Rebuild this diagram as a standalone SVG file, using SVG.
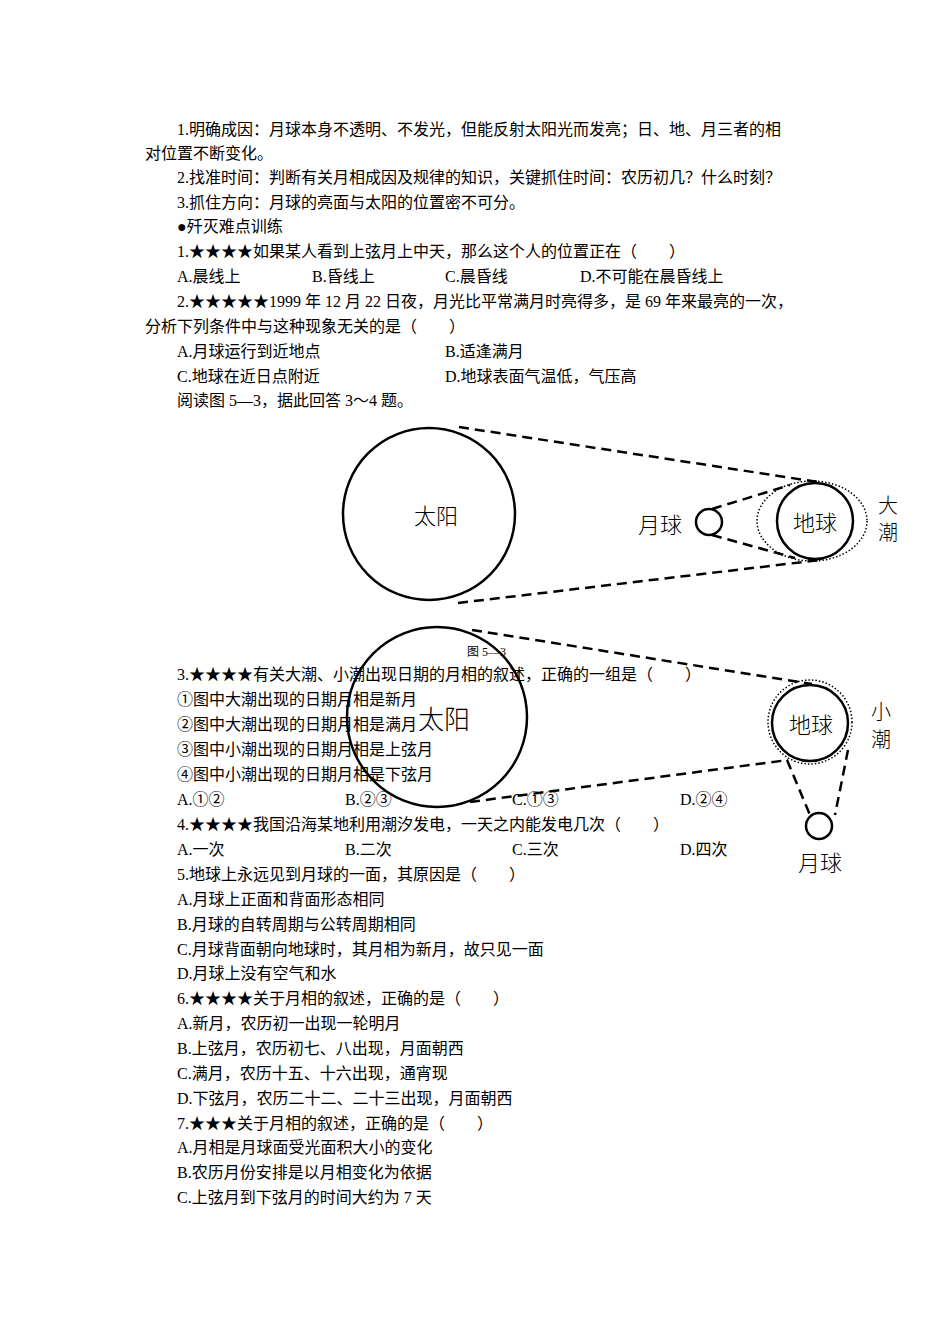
<svg xmlns="http://www.w3.org/2000/svg" width="950" height="1344" viewBox="0 0 950 1344">
<style>
text{font-family:"Liberation Serif","Noto Sans CJK SC",serif;font-size:16px;fill:#000}
.lb{font-family:"Noto Sans CJK SC",sans-serif;font-size:22px;font-weight:300;text-anchor:middle;dominant-baseline:central}
.sm{font-size:20px}
.c{fill:none;stroke:#000;stroke-width:2.5}
.d{fill:none;stroke:#000;stroke-width:2.5;stroke-dasharray:10 6}
.dot{fill:none;stroke:#000;stroke-width:1.5;stroke-dasharray:1.5 2}
</style>
<rect width="950" height="1344" fill="#fff"/>
<g id="text">
<text x="177" y="135">1.明确成因：月球本身不透明、不发光，但能反射太阳光而发亮；日、地、月三者的相</text>
<text x="145" y="159">对位置不断变化。</text>
<text x="177" y="183">2.找准时间：判断有关月相成因及规律的知识，关键抓住时间：农历初几？什么时刻？</text>
<text x="177" y="208">3.抓住方向：月球的亮面与太阳的位置密不可分。</text>
<text x="177" y="232">●歼灭难点训练</text>
<text x="177" y="257">1.★★★★如果某人看到上弦月上中天，那么这个人的位置正在（　　）</text>
<text x="177" y="282">A.晨线上</text><text x="312" y="282">B.昏线上</text><text x="445" y="282">C.晨昏线</text><text x="580" y="282">D.不可能在晨昏线上</text>
<text x="177" y="307">2.★★★★★1999 年 12 月 22 日夜，月光比平常满月时亮得多，是 69 年来最亮的一次，</text>
<text x="145" y="332">分析下列条件中与这种现象无关的是（　　）</text>
<text x="177" y="357">A.月球运行到近地点</text><text x="445" y="357">B.适逢满月</text>
<text x="177" y="382">C.地球在近日点附近</text><text x="445" y="382">D.地球表面气温低，气压高</text>
<text x="177" y="406">阅读图 5—3，据此回答 3～4 题。</text>
<text x="467" y="656" style="font-size:12px">图 5—3</text>
<text x="177" y="680">3.★★★★有关大潮、小潮出现日期的月相的叙述，正确的一组是（　　）</text>
<text x="177" y="705">①图中大潮出现的日期月相是新月</text>
<text x="177" y="730">②图中大潮出现的日期月相是满月</text>
<text x="177" y="755">③图中小潮出现的日期月相是上弦月</text>
<text x="177" y="780">④图中小潮出现的日期月相是下弦月</text>
<text x="177" y="805">A.①②</text><text x="345" y="805">B.②③</text><text x="512" y="805">C.①③</text><text x="680" y="805">D.②④</text>
<text x="177" y="830">4.★★★★我国沿海某地利用潮汐发电，一天之内能发电几次（　　）</text>
<text x="177" y="855">A.一次</text><text x="345" y="855">B.二次</text><text x="512" y="855">C.三次</text><text x="680" y="855">D.四次</text>
<text x="177" y="880">5.地球上永远见到月球的一面，其原因是（　　）</text>
<text x="177" y="905">A.月球上正面和背面形态相同</text>
<text x="177" y="930">B.月球的自转周期与公转周期相同</text>
<text x="177" y="955">C.月球背面朝向地球时，其月相为新月，故只见一面</text>
<text x="177" y="979">D.月球上没有空气和水</text>
<text x="177" y="1004">6.★★★★关于月相的叙述，正确的是（　　）</text>
<text x="177" y="1029">A.新月，农历初一出现一轮明月</text>
<text x="177" y="1054">B.上弦月，农历初七、八出现，月面朝西</text>
<text x="177" y="1079">C.满月，农历十五、十六出现，通宵现</text>
<text x="177" y="1104">D.下弦月，农历二十二、二十三出现，月面朝西</text>
<text x="177" y="1129">7.★★★关于月相的叙述，正确的是（　　）</text>
<text x="177" y="1153">A.月相是月球面受光面积大小的变化</text>
<text x="177" y="1178">B.农历月份安排是以月相变化为依据</text>
<text x="177" y="1203">C.上弦月到下弦月的时间大约为 7 天</text>
</g>
<g id="connectors">
<line class="d" x1="459" y1="427" x2="818" y2="482"/>
<line class="d" x1="458" y1="603" x2="820" y2="560"/>
<line class="d" x1="712" y1="509" x2="790" y2="485"/>
<line class="d" x1="712" y1="535" x2="795" y2="558"/>
<line class="d" x1="472" y1="630" x2="812" y2="684"/>
<line class="d" x1="470" y1="802" x2="788" y2="760"/>
<line class="d" x1="787" y1="760" x2="810" y2="815"/>
<line class="d" x1="848" y1="750" x2="835" y2="815"/>
</g>
<g id="sun1"><circle class="c" cx="429" cy="514" r="86"/><text class="lb" x="436" y="514">太阳</text></g>
<g id="moon1"><circle class="c" cx="709" cy="522" r="13"/><text class="lb" x="660" y="523">月球</text></g>
<g id="earth1"><ellipse class="dot" cx="812" cy="521" rx="55" ry="40"/><circle class="c" cx="815" cy="521" r="38"/><text class="lb" x="815" y="521">地球</text><text class="lb sm" x="888" y="504">大</text><text class="lb sm" x="888" y="531">潮</text></g>
<g id="sun2"><circle class="c" cx="437" cy="717" r="90"/><text class="lb" x="444" y="717" style="font-size:26px">太阳</text></g>
<g id="earth2"><circle class="dot" cx="810" cy="722" r="42"/><circle class="c" cx="810" cy="723" r="38"/><text class="lb" x="811" y="723">地球</text><text class="lb sm" x="881" y="710">小</text><text class="lb sm" x="881" y="738">潮</text></g>
<g id="moon2"><circle class="c" cx="819" cy="826" r="13"/><text class="lb" x="820" y="861">月球</text></g>
</svg>
